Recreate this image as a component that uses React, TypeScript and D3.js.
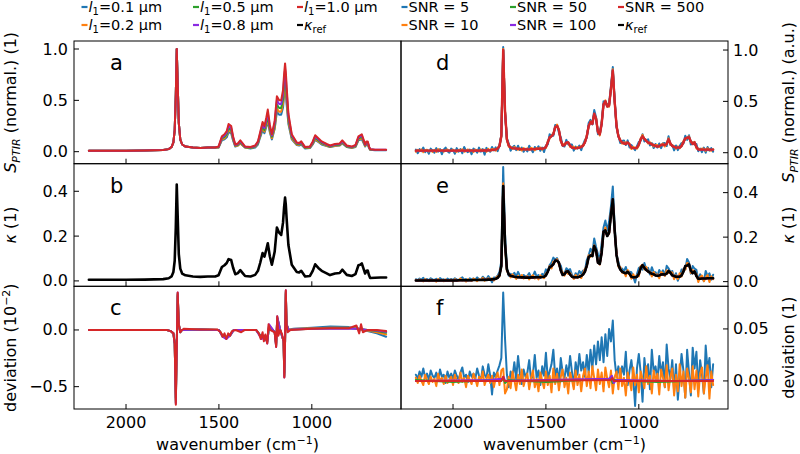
import React from 'react';
import * as d3 from 'd3';

// ---------------- DATA ----------------
const X_TICKS = [2000, 1500, 1000];
const COLORS = ['#1f77b4', '#ff7f0e', '#2ca02c', '#8a2be2', '#d62728'];
const L1_LABELS = ['0.1', '0.2', '0.5', '0.8', '1.0'];
const SNR_LABELS = ['5', '10', '50', '100', '500'];

// coarse wavenumber grid (panels a, b)
const WN_COARSE = [
  2200, 2100, 2000, 1900, 1800, 1770, 1755, 1745, 1738, 1732,
  1727, 1722, 1716, 1708, 1698, 1680, 1640, 1600, 1560, 1520,
  1502, 1484, 1470, 1458, 1448, 1434, 1424, 1412, 1398, 1385,
  1372, 1359, 1330, 1305, 1290, 1278, 1265, 1255, 1245, 1237,
  1226, 1215, 1200, 1188, 1176, 1165, 1155, 1149, 1144, 1140,
  1135, 1126, 1108, 1081, 1068, 1057, 1036, 1010, 995, 982,
  965, 947, 920, 902, 875, 850, 836, 812, 785, 765,
  749, 740, 731, 720, 713, 706, 699, 692, 686, 660,
  630, 600,
];

// panel a: normalized S_PTIR, shared part 2200..1520
const S_HEAD = [0.01, 0.01, 0.01, 0.012, 0.016, 0.025, 0.045, 0.09, 0.21, 0.56,
  1.0, 0.67, 0.28, 0.12, 0.07, 0.05, 0.04, 0.035, 0.04, 0.04];
const S_L1_01_TAIL = [
  0.04, 0.11, 0.12, 0.14, 0.19, 0.18, 0.11, 0.05, 0.06, 0.08,
  0.06, 0.04, 0.03, 0.04, 0.07, 0.14, 0.21, 0.18, 0.24, 0.3,
  0.19, 0.12, 0.22, 0.39, 0.36, 0.36, 0.43, 0.55, 0.62, 0.56,
  0.45, 0.27, 0.12, 0.065, 0.06, 0.07, 0.03, 0.035, 0.07, 0.115,
  0.095, 0.07, 0.055, 0.045, 0.055, 0.06, 0.08, 0.045, 0.035, 0.045,
  0.11, 0.115, 0.12, 0.08, 0.05, 0.07, 0.07, 0.035, 0.02, 0.015,
  0.015, 0.015];
const S_L1_02_TAIL = [
  0.04, 0.12, 0.13, 0.16, 0.21, 0.195, 0.12, 0.055, 0.06, 0.085,
  0.06, 0.04, 0.035, 0.047, 0.08, 0.15, 0.23, 0.195, 0.26, 0.32,
  0.2, 0.13, 0.23, 0.42, 0.39, 0.39, 0.47, 0.59, 0.67, 0.61,
  0.48, 0.29, 0.13, 0.07, 0.066, 0.078, 0.035, 0.039, 0.078, 0.125,
  0.1, 0.078, 0.058, 0.047, 0.058, 0.062, 0.086, 0.047, 0.039, 0.05,
  0.117, 0.125, 0.133, 0.086, 0.055, 0.078, 0.078, 0.039, 0.02, 0.016,
  0.016, 0.016];
const S_L1_05_TAIL = [
  0.043, 0.13, 0.145, 0.17, 0.23, 0.21, 0.13, 0.06, 0.068, 0.094,
  0.068, 0.043, 0.038, 0.051, 0.085, 0.16, 0.25, 0.21, 0.28, 0.35,
  0.22, 0.145, 0.255, 0.46, 0.425, 0.425, 0.51, 0.65, 0.73, 0.66,
  0.53, 0.315, 0.145, 0.077, 0.072, 0.085, 0.038, 0.043, 0.085, 0.136,
  0.11, 0.085, 0.064, 0.051, 0.064, 0.068, 0.094, 0.051, 0.043, 0.055,
  0.128, 0.136, 0.145, 0.094, 0.06, 0.085, 0.085, 0.043, 0.021, 0.017,
  0.017, 0.017];
const S_L1_08_TAIL = [
  0.047, 0.14, 0.158, 0.186, 0.25, 0.23, 0.14, 0.065, 0.074, 0.102,
  0.074, 0.047, 0.042, 0.056, 0.093, 0.177, 0.27, 0.23, 0.307, 0.38,
  0.242, 0.158, 0.28, 0.5, 0.465, 0.465, 0.56, 0.71, 0.8, 0.725,
  0.577, 0.344, 0.158, 0.084, 0.079, 0.093, 0.042, 0.047, 0.093, 0.149,
  0.121, 0.093, 0.07, 0.056, 0.07, 0.074, 0.102, 0.056, 0.047, 0.06,
  0.14, 0.149, 0.158, 0.102, 0.065, 0.093, 0.093, 0.047, 0.023, 0.019,
  0.019, 0.019];
const S_L1_10_TAIL = [
  0.05, 0.15, 0.17, 0.2, 0.27, 0.25, 0.15, 0.07, 0.08, 0.11,
  0.08, 0.05, 0.045, 0.06, 0.1, 0.19, 0.29, 0.25, 0.33, 0.41,
  0.26, 0.17, 0.3, 0.54, 0.5, 0.5, 0.6, 0.76, 0.86, 0.78,
  0.62, 0.37, 0.17, 0.09, 0.085, 0.1, 0.045, 0.05, 0.1, 0.16,
  0.13, 0.1, 0.075, 0.06, 0.075, 0.08, 0.11, 0.06, 0.05, 0.065,
  0.15, 0.16, 0.17, 0.11, 0.07, 0.1, 0.1, 0.05, 0.025, 0.02,
  0.02, 0.02];

// panel b: kappa_ref on coarse grid
const KAPPA_COARSE = [
  0.005, 0.005, 0.005, 0.006, 0.008, 0.012, 0.02, 0.04, 0.09, 0.24,
  0.43, 0.29, 0.12, 0.055, 0.033, 0.025, 0.02, 0.018, 0.02, 0.02,
  0.025, 0.062, 0.07, 0.08, 0.097, 0.093, 0.06, 0.03, 0.035, 0.048,
  0.035, 0.022, 0.02, 0.027, 0.045, 0.08, 0.124, 0.108, 0.14, 0.168,
  0.11, 0.072, 0.13, 0.238, 0.215, 0.205, 0.26, 0.33, 0.372, 0.34,
  0.27, 0.16, 0.072, 0.04, 0.038, 0.045, 0.02, 0.022, 0.045, 0.074,
  0.058, 0.045, 0.034, 0.026, 0.033, 0.035, 0.05, 0.027, 0.022, 0.03,
  0.07, 0.072, 0.078, 0.05, 0.033, 0.045, 0.046, 0.025, 0.013, 0.014,
  0.015, 0.015];

// panel c: deviation (1e-2), [wavenumber, value]
const DEV_L1_01: [number, number][] = [[2200, 0], [1780, 0], [1760, -0.01], [1745, -0.03], [1738, -0.12], [1732, -0.6], [1727, -0.14], [1722, 0.3], [1716, 0.05], [1708, -0.02], [1698, 0], [1600, 0.005], [1500, 0], [1480, -0.05], [1460, -0.06], [1440, -0.04], [1420, 0], [1300, 0], [1270, -0.06], [1250, -0.08], [1240, -0.1], [1230, 0.03], [1200, -0.02], [1192, -0.12], [1186, 0.1], [1170, 0], [1152, -0.1], [1148, -0.38], [1144, -0.1], [1140, 0.32], [1136, 0.05], [1125, 0], [1100, 0.01], [1000, 0.02], [900, 0.03], [800, 0.025], [750, 0.01], [700, -0.01], [650, -0.03], [600, -0.06]];
const DEV_L1_02: [number, number][] = [[2200, 0], [1780, 0], [1760, -0.01], [1745, -0.03], [1738, -0.12], [1732, -0.62], [1727, -0.14], [1722, 0.31], [1716, 0.05], [1708, -0.02], [1698, 0], [1600, 0.005], [1500, 0], [1480, -0.05], [1460, -0.07], [1440, -0.04], [1420, 0], [1300, 0], [1270, -0.07], [1250, -0.06], [1240, -0.1], [1230, 0.03], [1200, -0.02], [1192, -0.13], [1186, 0.1], [1170, 0], [1152, -0.1], [1148, -0.4], [1144, -0.1], [1140, 0.33], [1136, 0.05], [1125, 0], [1100, 0.008], [1000, 0.015], [900, 0.02], [800, 0.02], [750, 0.01], [700, -0.005], [650, -0.02], [600, -0.04]];
const DEV_L1_05: [number, number][] = [[2200, 0], [1780, 0], [1760, -0.01], [1745, -0.03], [1738, -0.12], [1732, -0.64], [1727, -0.15], [1722, 0.32], [1716, 0.05], [1708, -0.02], [1698, 0], [1600, 0.005], [1500, 0], [1480, -0.06], [1460, -0.07], [1440, -0.05], [1420, 0], [1300, 0], [1270, -0.07], [1250, -0.05], [1240, -0.11], [1230, 0.04], [1200, -0.02], [1192, -0.14], [1186, 0.11], [1170, 0], [1152, -0.1], [1148, -0.41], [1144, -0.1], [1140, 0.34], [1136, 0.05], [1125, 0], [1100, 0.005], [1000, 0.01], [900, 0.015], [800, 0.015], [750, 0.01], [700, 0], [650, -0.01], [600, -0.025]];
const DEV_L1_08: [number, number][] = [[2200, 0], [1780, 0], [1760, -0.01], [1745, -0.03], [1738, -0.12], [1732, -0.65], [1727, -0.15], [1722, 0.33], [1716, 0.05], [1708, -0.02], [1698, 0], [1600, 0.005], [1500, 0], [1480, -0.06], [1460, -0.08], [1440, -0.05], [1420, 0], [1300, 0], [1270, -0.08], [1250, -0.05], [1240, -0.12], [1230, 0.05], [1200, -0.02], [1192, -0.15], [1186, 0.12], [1170, 0], [1152, -0.1], [1148, -0.42], [1144, -0.1], [1140, 0.35], [1136, 0.05], [1125, 0], [1100, 0.005], [1000, 0.01], [900, 0.01], [800, 0.01], [750, 0.01], [700, 0], [650, -0.005], [600, -0.015]];
const DEV_L1_10: [number, number][] = [[2200, 0], [1780, 0], [1760, -0.01], [1745, -0.03], [1738, -0.12], [1732, -0.66], [1727, -0.15], [1722, 0.33], [1716, 0.05], [1708, -0.02], [1698, 0], [1690, 0.01], [1600, 0.005], [1510, 0.005], [1490, -0.02], [1480, -0.06], [1470, -0.03], [1460, -0.08], [1450, -0.03], [1440, -0.05], [1430, -0.01], [1410, 0], [1380, -0.02], [1360, 0], [1300, 0], [1285, -0.03], [1275, -0.08], [1265, -0.02], [1258, -0.1], [1250, -0.04], [1240, -0.12], [1233, 0.05], [1225, 0], [1200, -0.02], [1192, -0.15], [1186, 0.12], [1180, -0.05], [1170, 0], [1160, -0.04], [1152, -0.1], [1148, -0.42], [1144, -0.1], [1140, 0.35], [1136, 0.05], [1130, -0.02], [1115, 0], [1000, 0.01], [900, 0.015], [800, 0.015], [760, 0.04], [745, -0.03], [735, 0.05], [725, -0.02], [700, 0], [650, 0], [600, -0.01]];

// fine grid 2200..600 step 10 (panels d, e, f)
const WN_FINE = d3.range(2200, 595, -10);

// panel d: normalized S_PTIR (noise-free) on fine grid
const S_D = [
  0.02, 0.02, 0.02, 0.02, 0.02, 0.02, 0.02, 0.02, 0.02, 0.02,
  0.02, 0.02, 0.02, 0.02, 0.02, 0.02, 0.02, 0.02, 0.02, 0.02,
  0.02, 0.02, 0.02, 0.02, 0.02, 0.02, 0.02, 0.02, 0.02, 0.02,
  0.02, 0.02, 0.02, 0.02, 0.02, 0.02, 0.021, 0.021, 0.022, 0.023,
  0.024, 0.026, 0.028, 0.032, 0.04, 0.065, 0.16, 1.0, 0.4, 0.13,
  0.07, 0.05, 0.045, 0.042, 0.04, 0.038, 0.036, 0.035, 0.034, 0.033,
  0.033, 0.033, 0.034, 0.035, 0.036, 0.037, 0.038, 0.039, 0.04, 0.042,
  0.055, 0.1, 0.15, 0.16, 0.18, 0.25, 0.26, 0.22, 0.12, 0.07,
  0.075, 0.1, 0.1, 0.07, 0.05, 0.045, 0.045, 0.045, 0.05, 0.055,
  0.07, 0.1, 0.16, 0.26, 0.3, 0.28, 0.38, 0.33, 0.2, 0.18,
  0.28, 0.47, 0.5, 0.45, 0.46, 0.62, 0.8, 0.5, 0.26, 0.16,
  0.12, 0.1, 0.09, 0.085, 0.1, 0.08, 0.05, 0.045, 0.045, 0.05,
  0.08, 0.13, 0.16, 0.135, 0.115, 0.1, 0.09, 0.08, 0.075, 0.065,
  0.06, 0.065, 0.075, 0.078, 0.075, 0.085, 0.13, 0.09, 0.065, 0.058,
  0.05, 0.05, 0.05, 0.065, 0.1, 0.14, 0.145, 0.15, 0.11, 0.085,
  0.1, 0.055, 0.03, 0.03, 0.03, 0.03, 0.03, 0.03, 0.03, 0.03,
  0.03];
// noise (units of 1e-3)
const NOISE_D_SNR5_MILLI = [
  10, -25, 15, -5, 30, -15, 5, -30, 20, 0,
  -20, 25, -10, 15, -35, 10, 30, -5, -20, 20,
  5, -30, 25, -10, 15, -25, 35, 0, -15, 10,
  -35, 20, 5, -20, 30, -10, 15, -40, 25, 5,
  -15, 30, -5, 20, -25, 10, 15, 30, -20, 10,
  20, -30, 5, 25, -15, 30, -10, 15, -25, 5,
  -20, 35, 0, -30, 20, -5, 25, -20, 10, -35,
  15, -20, 30, 5, -15, 20, 10, -25, 30, 0,
  -15, 25, -20, 10, 30, -25, 15, -5, 20, -30,
  10, 25, -15, 30, 20, -5, 35, 15, -20, 25,
  20, 30, -10, 25, 15, 30, 35, 20, -15, 10,
  -25, 15, 30, -10, 20, -30, 25, 5, -20, 15,
  25, -15, 20, -25, 10, 30, -20, 15, -30, 20,
  -10, 25, -30, 15, 20, -20, 30, -15, 10, -35,
  20, -25, 15, 30, -10, 25, -20, 20, -30, 15,
  -20, 30, -15, 10, -25, 20, -30, 25, -10, 15,
  -20];
const NOISE_D_SNR10_MILLI = [
  -10, 8, -5, 12, -15, 5, 10, -8, 3, -12,
  8, -12, 15, -3, 6, -10, 4, 12, -6, -2,
  10, -6, -12, 8, 2, 14, -10, -4, 12, -8,
  6, -14, 10, 4, -8, 12, -2, 8, -12, 15,
  -6, 10, 4, -12, 8, -4, 12, 10, 5, -8,
  -12, 6, -8, 14, 2, -10, 8, -14, 12, -4,
  10, -6, 14, 4, -12, 8, -2, 12, -10, 6,
  -8, 12, -14, 6, 10, -6, 14, 4, -12, 8,
  12, -10, 4, -14, 8, 14, -6, 10, -2, 12,
  -6, 8, 12, -10, 4, 14, -8, 10, 6, -12,
  14, -4, 10, 6, -12, 8, 12, -6, 10, 4,
  6, -12, 10, 14, -4, 8, -14, 12, 2, -10,
  -12, 8, 14, -6, 4, -10, 12, 6, -14, 10,
  14, -8, 2, 12, -14, 6, 10, -12, 8, 4,
  -10, 12, -6, 8, 14, -12, 4, 10, -8, 12,
  6, -14, 12, -4, 10, 8, -12, 14, -6, -10,
  4];

// panel e: kappa_ref on fine grid
const KAPPA_FINE = [
  0.005, 0.005, 0.005, 0.005, 0.005, 0.005, 0.005, 0.005, 0.005, 0.005,
  0.005, 0.005, 0.005, 0.005, 0.005, 0.005, 0.005, 0.005, 0.005, 0.005,
  0.005, 0.005, 0.005, 0.006, 0.006, 0.006, 0.006, 0.006, 0.006, 0.006,
  0.006, 0.007, 0.007, 0.007, 0.007, 0.007, 0.008, 0.008, 0.008, 0.009,
  0.009, 0.01, 0.011, 0.013, 0.017, 0.028, 0.07, 0.43, 0.17, 0.055,
  0.032, 0.026, 0.024, 0.022, 0.021, 0.02, 0.02, 0.019, 0.019, 0.018,
  0.018, 0.018, 0.019, 0.019, 0.02, 0.02, 0.02, 0.02, 0.021, 0.022,
  0.028, 0.045, 0.065, 0.07, 0.078, 0.095, 0.094, 0.085, 0.05, 0.03,
  0.033, 0.045, 0.046, 0.032, 0.022, 0.02, 0.02, 0.02, 0.022, 0.026,
  0.032, 0.045, 0.072, 0.11, 0.118, 0.115, 0.16, 0.14, 0.085, 0.08,
  0.13, 0.225, 0.23, 0.205, 0.22, 0.3, 0.37, 0.23, 0.12, 0.075,
  0.055, 0.045, 0.04, 0.038, 0.044, 0.035, 0.022, 0.02, 0.02, 0.022,
  0.035, 0.06, 0.074, 0.062, 0.052, 0.046, 0.04, 0.035, 0.033, 0.028,
  0.026, 0.028, 0.032, 0.033, 0.032, 0.036, 0.048, 0.04, 0.028, 0.025,
  0.022, 0.022, 0.022, 0.028, 0.045, 0.07, 0.072, 0.078, 0.05, 0.038,
  0.046, 0.025, 0.013, 0.013, 0.014, 0.014, 0.014, 0.015, 0.015, 0.015,
  0.015];

// panel f: deviation of retrieved kappa (units of 1e-3)
const DEV_SNR5_MILLI = [
  6, 2, 9, 4, 12, 3, 7, 1, 10, 5,
  3, 8, 0, 11, 4, 6, -2, 9, 3, 7,
  2, 10, 5, 1, 8, 13, 3, 6, -1, 9,
  4, 7, 2, 12, 5, 0, 14, 6, 3, 16,
  5, -13, 8, 4, 10, 15, 22, 85, 40, 6,
  -6, 9, 3, 18, 2, 24, 7, -3, 11, 4,
  8, 20, 1, 6, 25, 3, 10, -4, 14, 5,
  27, 2, 9, 16, 30, 4, 12, -2, 22, 8,
  3, 15, 5, 24, 9, -5, 18, 6, 26, 10,
  18, 4, 25, 8, 30, 12, 34, 16, 38, 20,
  42, 18, 45, 24, 50, 38, 58, 20, 4, 14,
  2, 14, 6, 28, -4, 10, 20, 3, -24, 12,
  26, 8, -20, 22, 4, 16, -8, 30, 9, 14,
  0, 24, 6, 18, -6, 35, 12, 2, 20, -10,
  16, -18, 4, 26, 10, -16, 30, 8, -14, 32,
  12, 28, -8, 20, 6, -12, 34, 10, 22, -6,
  16];
const DEV_SNR10_MILLI = [
  3, -2, 5, 0, -4, 6, 1, -3, 4, -1,
  2, -5, 7, 0, 3, -3, 5, -2, 1, 4,
  -4, 6, 0, -2, 8, -1, 3, -6, 5, 1,
  -3, 7, 2, -5, 4, 0, 9, -4, 2, 6,
  -2, 5, -6, 3, 8, -4, 10, 12, -12, -8,
  4, -7, 9, 1, -9, 6, -3, 11, -5, 2,
  7, -8, 3, 10, -6, 2, -10, 8, 0, -7,
  9, -4, 5, -11, 12, -3, 7, -9, 4, 11,
  -6, 3, -12, 8, 1, -8, 10, -4, 6, -10,
  5, 12, -5, 9, -7, 14, 3, -9, 11, -3,
  8, -10, 13, 2, -6, 10, -12, 4, 9, -8,
  12, -5, 3, -14, 8, 1, -9, 13, -4, 6,
  -11, 9, 2, -7, 14, -3, 5, -12, 10, 0,
  7, -13, 11, 3, -6, 15, -9, 4, 12, -14,
  6, -10, 16, -5, 9, -16, 12, 2, -11, 14,
  -8, 10, -15, 7, 13, -12, 3, 15, -17, 9,
  -4];
const DEV_SNR50: [number, number][] = [[2200, 0.001], [2000, -0.001], [1800, 0.001], [1740, 0], [1730, 0.003], [1720, -0.002], [1700, 0.001], [1500, -0.001], [1300, 0.001], [1150, 0.002], [1140, -0.002], [1130, 0.001], [900, -0.001], [600, 0.001]];
const DEV_SNR100: [number, number][] = [[2200, 0], [1800, 0.001], [1735, 0.002], [1728, 0.004], [1720, 0], [1500, 0.001], [1160, 0.002], [1145, 0.005], [1135, -0.002], [1120, 0.001], [800, 0], [600, 0.001]];
const DEV_SNR500: [number, number][] = [[2200, 0], [1740, 0], [1730, 0.004], [1722, 0], [1150, 0.001], [1142, 0.003], [1135, 0], [600, 0]];

// ---------------- LAYOUT ----------------
const FONT = 'DejaVu Sans, Liberation Sans, sans-serif';
const COLS = [[74, 401], [401, 728]];
const ROWS = [[41, 163.7], [163.7, 286.3], [286.3, 409]];
const X_DOMAIN = [2280, 520];

type Pt = [number, number];
const zip = (xs: number[], ys: number[]): Pt[] => xs.map((x, i) => [x, ys[i]] as Pt);
const milli = (a: number[]) => a.map((v) => v / 1000);
const addArr = (a: number[], b: number[]) => a.map((v, i) => v + b[i]);

interface Series { data: Pt[]; color: string; width: number; }
interface PanelProps {
  col: number; row: number; yDomain: [number, number]; yTicks: number[]; yFmt: (v: number) => string;
  series: Series[]; letter: string; xLabels: boolean; id: string;
}

function Panel({ col, row, yDomain, yTicks, yFmt, series, letter, xLabels, id }: PanelProps) {
  const [x0, x1] = COLS[col];
  const [y0, y1] = ROWS[row];
  const xs = d3.scaleLinear().domain(X_DOMAIN).range([x0, x1]);
  const ys = d3.scaleLinear().domain(yDomain).range([y1, y0]);
  const line = d3.line<Pt>().x((d) => xs(d[0])).y((d) => ys(d[1]));
  const right = col === 1;
  const tl = 5;
  return (
    <g>
      <defs>
        <clipPath id={id}><rect x={x0} y={y0} width={x1 - x0} height={y1 - y0} /></clipPath>
      </defs>
      <g clipPath={`url(#${id})`}>
        {series.map((s, i) => (
          <path key={i} d={line(s.data) || ''} fill="none" stroke={s.color} strokeWidth={s.width} strokeLinejoin="round" strokeLinecap="round" />
        ))}
      </g>
      <rect x={x0} y={y0} width={x1 - x0} height={y1 - y0} fill="none" stroke="#000" strokeWidth={1} />
      {X_TICKS.map((t) => (
        <g key={t}>
          <line x1={xs(t)} x2={xs(t)} y1={y1} y2={y1 - tl} stroke="#000" strokeWidth={1} />
          {xLabels && (
            <text x={xs(t)} y={y1 + 19} textAnchor="middle" fontSize={16} fontFamily={FONT}>{t}</text>
          )}
        </g>
      ))}
      {yTicks.map((t) => (
        <g key={t}>
          <line x1={right ? x1 : x0} x2={right ? x1 - tl : x0 + tl} y1={ys(t)} y2={ys(t)} stroke="#000" strokeWidth={1} />
          <text x={right ? x1 + 5 : x0 - 6} y={ys(t) + 5.5} textAnchor={right ? 'start' : 'end'} fontSize={16} fontFamily={FONT}>{yFmt(t)}</text>
        </g>
      ))}
      <text x={x0 + (right ? 35 : 36)} y={y0 + 29} fontSize={21} fontFamily={FONT}>{letter}</text>
    </g>
  );
}

const minus = (s: string) => s.replace('-', '\u2212');
const f1 = (v: number) => minus(d3.format('.1f')(v));
const f2 = (v: number) => minus(d3.format('.2f')(v));

function LegendEntry({ x, y, color, children }: { x: number; y: number; color: string; children: React.ReactNode }) {
  return (
    <g>
      <line x1={x} x2={x + 6} y1={y} y2={y} stroke={color} strokeWidth={2.2} />
      <text x={x + 7} y={y + 5.2} fontSize={14.5} fontFamily={FONT}>{children}</text>
    </g>
  );
}

const L1Label = ({ v }: { v: string }) => (
  <>
    <tspan fontStyle="italic">l</tspan>
    <tspan dy={3} fontSize={10}>1</tspan>
    <tspan dy={-3}>={v} µm</tspan>
  </>
);
const KRef = () => (
  <>
    <tspan fontStyle="italic">κ</tspan>
    <tspan dy={3} fontSize={10}>ref</tspan>
  </>
);

export default function App() {
  const aSeries: Series[] = [S_L1_01_TAIL, S_L1_02_TAIL, S_L1_05_TAIL, S_L1_08_TAIL, S_L1_10_TAIL].map((tail, i) => ({
    data: zip(WN_COARSE, [...S_HEAD, ...tail]), color: COLORS[i], width: 2,
  }));
  const bSeries: Series[] = [{ data: zip(WN_COARSE, KAPPA_COARSE), color: '#000', width: 2.6 }];
  const cSeries: Series[] = [DEV_L1_01, DEV_L1_02, DEV_L1_05, DEV_L1_08, DEV_L1_10].map((d, i) => ({ data: d, color: COLORS[i], width: 2 }));

  const dSeries: Series[] = [
    { data: zip(WN_FINE, addArr(S_D, milli(NOISE_D_SNR5_MILLI))), color: COLORS[0], width: 2 },
    { data: zip(WN_FINE, addArr(S_D, milli(NOISE_D_SNR10_MILLI))), color: COLORS[1], width: 2 },
    { data: zip(WN_FINE, S_D), color: COLORS[2], width: 2 },
    { data: zip(WN_FINE, S_D), color: COLORS[3], width: 2 },
    { data: zip(WN_FINE, S_D), color: COLORS[4], width: 2.4 },
  ];
  const eSeries: Series[] = [
    { data: zip(WN_FINE, addArr(KAPPA_FINE, milli(DEV_SNR5_MILLI))), color: COLORS[0], width: 2 },
    { data: zip(WN_FINE, addArr(KAPPA_FINE, milli(DEV_SNR10_MILLI))), color: COLORS[1], width: 2 },
    { data: zip(WN_FINE, KAPPA_FINE), color: COLORS[2], width: 2 },
    { data: zip(WN_FINE, KAPPA_FINE), color: COLORS[3], width: 2 },
    { data: zip(WN_FINE, KAPPA_FINE), color: COLORS[4], width: 2 },
    { data: zip(WN_FINE, KAPPA_FINE), color: '#000', width: 2.6 },
  ];
  const fSeries: Series[] = [
    { data: zip(WN_FINE, milli(DEV_SNR5_MILLI)), color: COLORS[0], width: 2 },
    { data: zip(WN_FINE, milli(DEV_SNR10_MILLI)), color: COLORS[1], width: 2 },
    { data: DEV_SNR50, color: COLORS[2], width: 2 },
    { data: DEV_SNR100, color: COLORS[3], width: 2 },
    { data: DEV_SNR500, color: COLORS[4], width: 2 },
  ];

  const legLeftX = [81.5, 193, 297];
  const legRightX = [401.5, 510, 618];
  const legY = [7, 25];

  const ylab = (x: number, cy: number, content: React.ReactNode) => (
    <text transform={`translate(${x},${cy}) rotate(-90)`} textAnchor="middle" fontSize={16} fontFamily={FONT}>{content}</text>
  );
  const SLabel = (unit: string) => (
    <>
      <tspan fontStyle="italic">S</tspan>
      <tspan dy={3.5} fontSize={11} fontStyle="italic">PTIR</tspan>
      <tspan dy={-3.5}> (normal.) ({unit})</tspan>
    </>
  );
  const rowC = (r: number) => (ROWS[r][0] + ROWS[r][1]) / 2;

  return (
    <svg width={800} height={454} style={{ position: 'absolute', left: 0, top: 0, background: '#fff' }}>
      <rect x={0} y={0} width={800} height={454} fill="#fff" />
      {/* legends */}
      {[0, 1, 2, 3, 4].map((i) => (
        <LegendEntry key={'l' + i} x={legLeftX[Math.floor(i / 2)]} y={legY[i % 2]} color={COLORS[i]}>
          <L1Label v={L1_LABELS[i]} />
        </LegendEntry>
      ))}
      <LegendEntry x={legLeftX[2]} y={legY[1]} color="#000"><KRef /></LegendEntry>
      {[0, 1, 2, 3, 4].map((i) => (
        <LegendEntry key={'r' + i} x={legRightX[Math.floor(i / 2)]} y={legY[i % 2]} color={COLORS[i]}>
          {`SNR = ${SNR_LABELS[i]}`}
        </LegendEntry>
      ))}
      <LegendEntry x={legRightX[2]} y={legY[1]} color="#000"><KRef /></LegendEntry>

      <Panel id="ca" col={0} row={0} yDomain={[-0.117, 1.078]} yTicks={[0, 0.5, 1]} yFmt={f1} series={aSeries} letter="a" xLabels={false} />
      <Panel id="cb" col={0} row={1} yDomain={[-0.024, 0.523]} yTicks={[0, 0.2, 0.4]} yFmt={f1} series={bSeries} letter="b" xLabels={false} />
      <Panel id="cc" col={0} row={2} yDomain={[-0.697, 0.385]} yTicks={[-0.5, 0]} yFmt={f1} series={cSeries} letter="c" xLabels={true} />
      <Panel id="cd" col={1} row={0} yDomain={[-0.107, 1.088]} yTicks={[0, 0.5, 1]} yFmt={f1} series={dSeries} letter="d" xLabels={false} />
      <Panel id="ce" col={1} row={1} yDomain={[-0.021, 0.53]} yTicks={[0, 0.2, 0.4]} yFmt={f1} series={eSeries} letter="e" xLabels={false} />
      <Panel id="cf" col={1} row={2} yDomain={[-0.027, 0.091]} yTicks={[0, 0.05]} yFmt={f2} series={fSeries} letter="f" xLabels={true} />

      {/* axis labels */}
      {[0, 1].map((c) => (
        <text key={c} x={(COLS[c][0] + COLS[c][1]) / 2} y={450} textAnchor="middle" fontSize={16} fontFamily={FONT}>
          wavenumber (cm<tspan dy={-6} fontSize={11}>−1</tspan><tspan dy={6}>)</tspan>
        </text>
      ))}
      {ylab(16, rowC(0), SLabel('1'))}
      {ylab(16, rowC(1), <><tspan fontStyle="italic">κ</tspan> (1)</>)}
      {ylab(16, rowC(2), <>deviation (10<tspan dy={-6} fontSize={11}>−2</tspan><tspan dy={6}>)</tspan></>)}
      {ylab(794, rowC(0), SLabel('a.u.'))}
      {ylab(794, rowC(1), <><tspan fontStyle="italic">κ</tspan> (1)</>)}
      {ylab(794, rowC(2), 'deviation (1)')}
    </svg>
  );
}
